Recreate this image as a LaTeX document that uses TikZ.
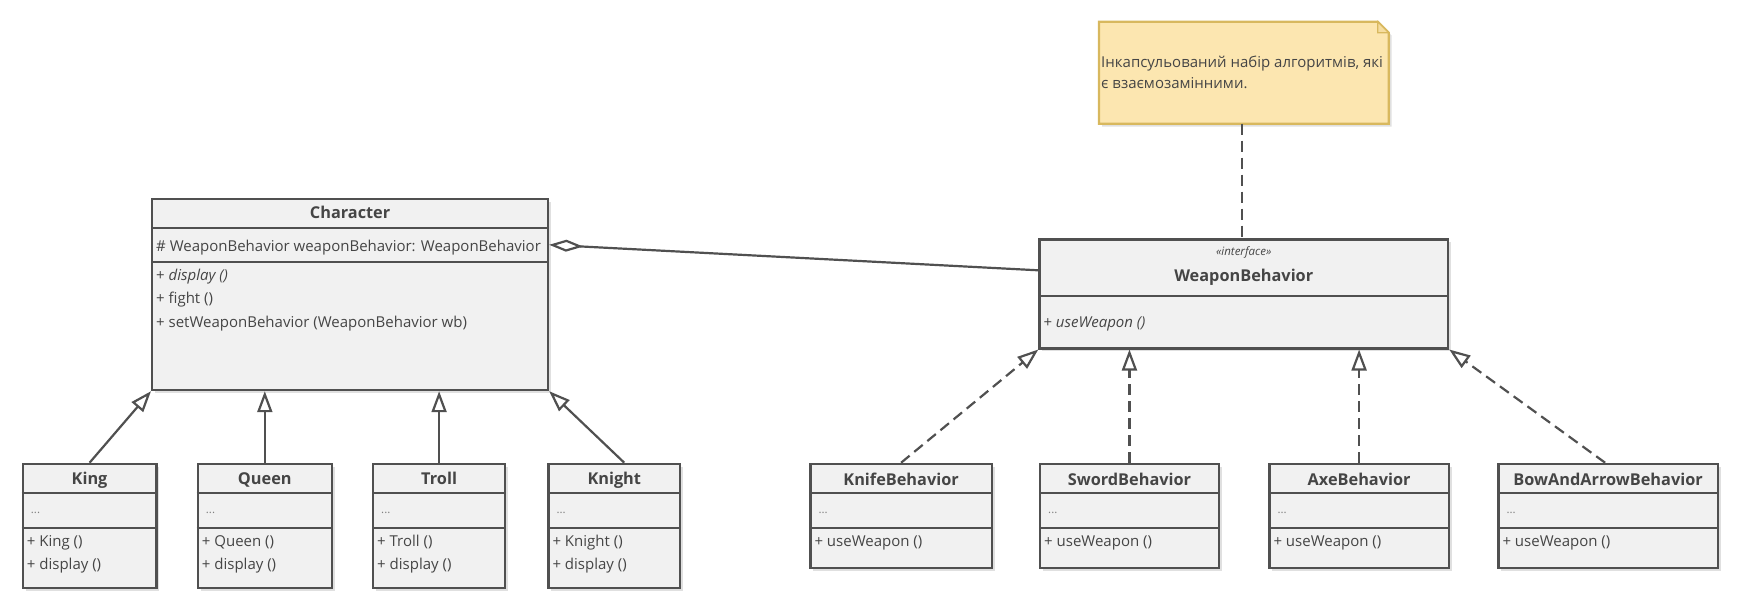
\documentclass[tikz,border=0pt]{standalone}
\usepackage{fontspec}
\setmainfont{Open Sans}
\usetikzlibrary{arrows.meta,shadows,calc}
\definecolor{boxfill}{HTML}{F1F1F1}
\definecolor{boxline}{HTML}{505050}
\definecolor{txtc}{HTML}{454545}
\definecolor{dotc}{HTML}{808080}
\definecolor{notefill}{HTML}{FCE6B0}
\definecolor{noteline}{HTML}{D8B85E}
\begin{document}
\begin{tikzpicture}[x=1pt,y=-1pt,
  cbox/.style={draw=boxline, fill=boxfill, line width=2.2pt, inner sep=0pt, anchor=north west,
    drop shadow={shadow xshift=3pt, shadow yshift=-3pt, opacity=0.12, fill=black}},
  cline/.style={draw=boxline, line width=2.2pt},
  ttl/.style={font=\fontsize{16.3}{18}\selectfont\bfseries, text=txtc, inner sep=0pt, text height=11.5pt, text depth=3.5pt, yshift=-2.2pt},
  mem/.style={font=\fontsize{15}{17}\selectfont, text=txtc, inner sep=0pt, anchor=west, text height=11pt, text depth=3.5pt, yshift=-2.5pt},
  dots/.style={font=\fontsize{11.5}{13}\selectfont, text=dotc, inner sep=0pt, anchor=west},
  gen/.style={draw=boxline, line width=2.2pt, -{Triangle[open,length=21pt,width=15pt,line width=2.2pt]}},
  real/.style={gen, dash pattern=on 11pt off 6pt},
  agg/.style={draw=boxline, line width=2.2pt, {Diamond[open,length=34pt,width=12pt,line width=2.2pt]}-},
  notelink/.style={draw=boxline, line width=2.2pt, dash pattern=on 11pt off 6pt}
]
\useasboundingbox (0,0) rectangle (1737,606);

% ---------- Character ----------
\node[cbox, minimum width=396pt, minimum height=191.3pt] (character) at (151,197.7) {};
\draw[cline] ($(character.north west)+(0,30)$) -- ($(character.north east)+(0,30)$);
\draw[cline] ($(character.north west)+(0,64.6)$) -- ($(character.north east)+(0,64.6)$);
\node[ttl] (characterT) at ($(character.north)+(0,14.6)$) {Character};
\node[mem] (characterA) at ($(character.north west)+(5,47.3)$) {\# WeaponBehavior weaponBehavior: WeaponBehavior};
\node[mem] (characterM1) at ($(character.north west)+(5,76.6)$) {+ \textit{display ()}};
\node[mem] (characterM2) at ($(character.north west)+(5,100)$) {+ fight ()};
\node[mem] (characterM3) at ($(character.north west)+(5,123.3)$) {+ setWeaponBehavior (WeaponBehavior wb)};

% ---------- WeaponBehavior ----------
\node[cbox, minimum width=408.7pt, minimum height=109pt] (wb) at (1038.3,238.3) {};
\draw[cline] ($(wb.north west)+(0,57.4)$) -- ($(wb.north east)+(0,57.4)$);
\node[font=\fontsize{11.5}{12}\selectfont\itshape, text=txtc, inner sep=0pt, yshift=-2pt] (wbS) at ($(wb.north)+(0,12.4)$) {«interface»};
\node[ttl] (wbT) at ($(wb.north)+(0,36.7)$) {WeaponBehavior};
\node[mem] (wbM) at ($(wb.north west)+(5,83.4)$) {+ \textit{useWeapon ()}};

% ---------- Note ----------
\node[inner sep=0pt, minimum width=289.3pt, minimum height=101.6pt, anchor=north west] (note) at (1099,21.7) {};
\path[fill=notefill, draw=noteline, line width=2.2pt,
  drop shadow={shadow xshift=3pt, shadow yshift=-3pt, opacity=0.12, fill=black}]
  (note.north west) -- ($(note.north east)+(-11,0)$) -- ($(note.north east)+(0,11)$)
  -- (note.south east) -- (note.south west) -- cycle;
\path[fill=notefill!80!noteline, draw=noteline, line width=1.2pt]
  ($(note.north east)+(-11,0)$) -- ($(note.north east)+(-11,11)$) -- ($(note.north east)+(0,11)$) -- cycle;
\node[mem, align=left, font=\fontsize{15}{21}\selectfont, text height=, text depth=, yshift=2.5pt] (noteT) at ($(note.west)+(2,0)$) {Інкапсульований набір алгоритмів, які\\є взаємозамінними.};

% ---------- Small classes ----------
\newcommand\charclass[4]{%
  \node[cbox, minimum width=#3pt, minimum height=124pt] (#1) at (#2,462.7) {};
  \draw[cline] ($(#1.north west)+(0,30.6)$) -- ($(#1.north east)+(0,30.6)$);
  \draw[cline] ($(#1.north west)+(0,65.6)$) -- ($(#1.north east)+(0,65.6)$);
  \node[ttl] (#1T) at ($(#1.north)+(0,16)$) {#4};
  \node[dots] (#1D) at ($(#1.north west)+(9,50)$) {...};
  \node[mem] (#1M1) at ($(#1.north west)+(5,77.5)$) {+ #4 ()};
  \node[mem] (#1M2) at ($(#1.north west)+(5,100.6)$) {+ display ()};
}
\charclass{king}{21.7}{133.6}{King}
\charclass{queen}{196.7}{134}{Queen}
\charclass{troll}{372}{132}{Troll}
\charclass{knight}{547.3}{131.7}{Knight}

\newcommand\weapclass[4]{%
  \node[cbox, minimum width=#3pt, minimum height=104pt] (#1) at (#2,462.7) {};
  \draw[cline] ($(#1.north west)+(0,30.6)$) -- ($(#1.north east)+(0,30.6)$);
  \draw[cline] ($(#1.north west)+(0,65.6)$) -- ($(#1.north east)+(0,65.6)$);
  \node[ttl] (#1T) at ($(#1.north)+(0,16.6)$) {#4};
  \node[dots] (#1D) at ($(#1.north west)+(9,50)$) {...};
  \node[mem] (#1M1) at ($(#1.north west)+(5,78)$) {+ useWeapon ()};
}
\weapclass{knife}{809.3}{181.4}{KnifeBehavior}
\weapclass{sword}{1039}{178.7}{SwordBehavior}
\weapclass{axe}{1268.3}{179.4}{AxeBehavior}
\weapclass{bow}{1497.3}{219.4}{BowAndArrowBehavior}

% ---------- Connectors ----------
\draw[gen] (king.north) -- (character.south west);
\draw[gen] (queen.north) -- (queen.north |- character.south);
\draw[gen] (troll.north) -- (troll.north |- character.south);
\draw[gen] ([xshift=10pt]knight.north) -- (character.south east);

\draw[real] (knife.north) -- (wb.south west);
\draw[real] (sword.north) -- (sword.north |- wb.south);
\draw[real] (axe.north) -- (axe.north |- wb.south);
\draw[real] ([xshift=-3pt]bow.north) -- (wb.south east);

\coordinate (aggA) at ($(character.north east)+(0,47.1)$);
\coordinate (aggB) at ($(wb.north west)+(0,32)$);
\draw[agg] (aggA) -- (aggB);

\draw[notelink] ([xshift=-2pt]note.south) -- ([xshift=-2pt]note.south |- wb.north);
\end{tikzpicture}
\end{document}
